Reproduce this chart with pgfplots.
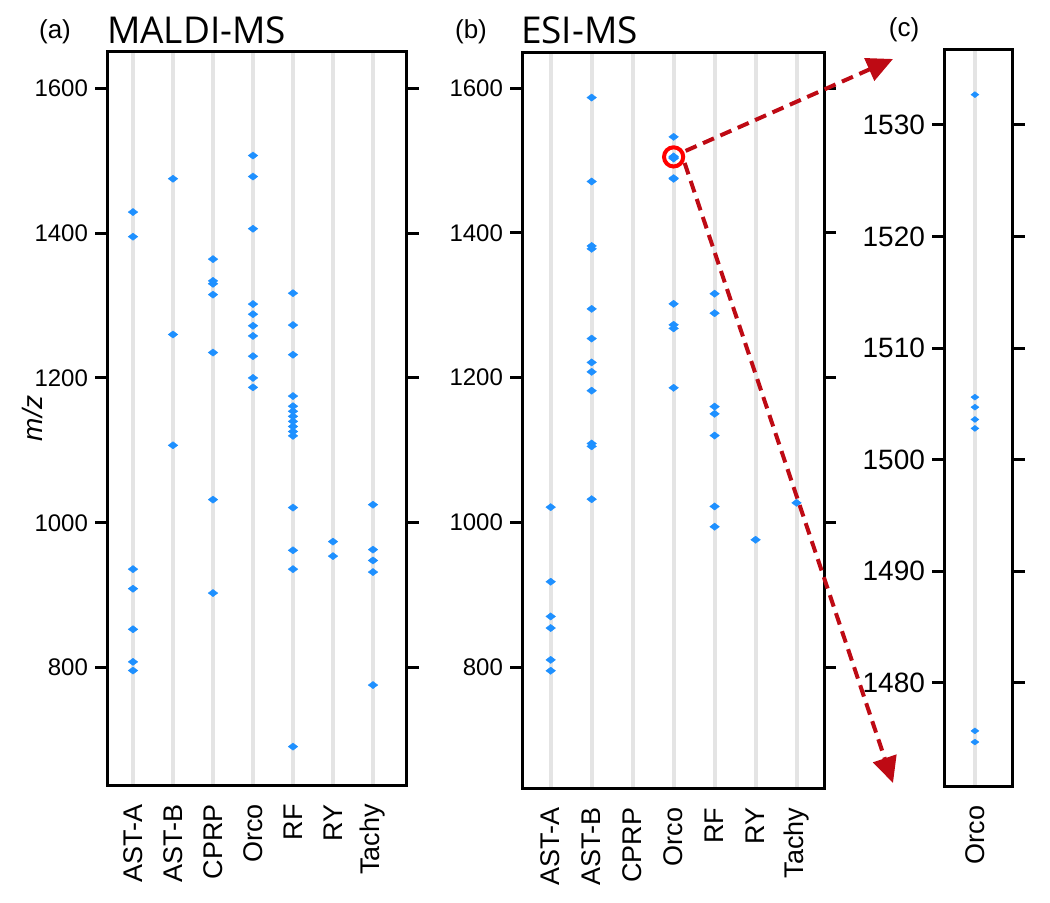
\documentclass[border=0pt]{standalone}
\usepackage{pgfplots}
\pgfplotsset{compat=1.18}
\usepackage{fontspec}
\setmainfont{Liberation Sans}
\newfontfamily\titlefont{Open Sans}
\usetikzlibrary{arrows.meta,calc}
\definecolor{ptblue}{RGB}{30,144,255}
\definecolor{gridgray}{RGB}{228,228,228}
\definecolor{arrowred}{RGB}{190,10,20}

\pgfplotsset{
  panel/.style={
    scale only axis, anchor=north west,
    axis line style={line width=1.5pt},
    xtick={0,...,6}, xmajorgrids,
    major x grid style={gridgray, line width=2pt},
    x tick style={draw=none},
    y tick style={line width=1.5pt, black},
    major tick length=6pt,
    tick align=outside,
    ytick pos=both, yticklabel pos=left,
    xticklabel style={rotate=90, anchor=east, font=\fontsize{13.5}{13.5}\selectfont},
    yticklabel style={font=\fontsize{12}{12}\selectfont},
    /pgf/number format/assume math mode=true,
    /pgf/number format/set thousands separator={},
    clip=false,
  },
  pts/.style={only marks, mark=diamond*, mark size=2.4pt,
    mark options={rotate=90, fill=ptblue, draw=ptblue, line width=0.2pt}},
}

\begin{document}
\begin{tikzpicture}
\path[use as bounding box] (0,0) rectangle (525pt,-451.5pt);

% ---------- (a) MALDI-MS ----------
\begin{axis}[panel, at={(53.5pt,-26pt)}, width=150pt, height=366.5pt,
  xmin=-0.65, xmax=6.85, ymin=638, ymax=1650,
  ytick={800,1000,1200,1400,1600},
  xticklabels={AST-A,AST-B,CPRP,Orco,RF,RY,Tachy},
  ylabel={\textit{m/z}}, ylabel style={font=\fontsize{14}{14}\selectfont, at={(axis description cs:-0.19,0.5)}}]
\addplot[pts] coordinates {
(0,1429) (0,1395) (0,936) (0,909) (0,853) (0,808) (0,796)
(1,1475) (1,1260) (1,1107)
(2,1364) (2,1334) (2,1330) (2,1315) (2,1235) (2,1032) (2,903)
(3,1507) (3,1478) (3,1406) (3,1302) (3,1288) (3,1272) (3,1258) (3,1230) (3,1200) (3,1187)
(4,1317) (4,1273) (4,1232) (4,1175) (4,1161) (4,1154) (4,1147) (4,1140) (4,1133) (4,1126) (4,1120) (4,1021) (4,962) (4,936) (4,691)
(5,974) (5,954)
(6,1025) (6,963) (6,948) (6,932) (6,776)
};
\end{axis}

% ---------- (b) ESI-MS ----------
\begin{axis}[panel, at={(261pt,-26.35pt)}, width=151pt, height=368pt,
  xmin=-0.7, xmax=6.67, ymin=632, ymax=1649,
  ytick={800,1000,1200,1400,1600},
  xticklabels={AST-A,AST-B,CPRP,Orco,RF,RY,Tachy}]
\addplot[pts] coordinates {
(0,1021) (0,918) (0,870) (0,854) (0,810) (0,795)
(1,1587) (1,1471) (1,1382) (1,1378) (1,1295) (1,1254) (1,1221) (1,1208) (1,1182) (1,1109) (1,1105) (1,1032)
(3,1532.7) (3,1505.6) (3,1504.7) (3,1503.6) (3,1502.8) (3,1475.7) (3,1474.7) (3,1302) (3,1273) (3,1268) (3,1186)
(4,1316) (4,1289) (4,1160) (4,1150) (4,1120) (4,1022) (4,994)
(5,976)
(6,1027)
};
\draw[red, line width=2pt] (axis cs:3,1505) circle[radius=4.8pt];
\coordinate (circ) at (axis cs:3,1505);
\end{axis}

% ---------- (c) Orco zoom ----------
\begin{axis}[panel, at={(472pt,-25pt)}, width=34.35pt, height=368.35pt,
  xmin=-0.45, xmax=0.55, ymin=1470.7, ymax=1536.7,
  xtick={0}, xticklabels={Orco},
  yticklabel style={font=\fontsize{14}{14}\selectfont},
  ytick={1480,1490,1500,1510,1520,1530}]
\addplot[pts, mark size=2pt] coordinates {
(0,1532.7) (0,1505.6) (0,1504.7) (0,1503.6) (0,1502.8) (0,1475.7) (0,1474.7)
};
\end{axis}

% annotations
\draw[arrowred, line width=2pt, dash pattern=on 6pt off 3.5pt, -{Triangle[length=13pt,width=12pt]}]
  ($(circ)+(6pt,3pt)$) -- (446.5pt,-29.5pt);
\draw[arrowred, line width=2pt, dash pattern=on 6pt off 3.5pt, -{Triangle[length=13pt,width=12pt]}]
  ($(circ)+(5.5pt,-3pt)$) -- (446.5pt,-391.5pt);

% titles
\node[font=\fontsize{13}{13}\selectfont] at (27.5pt,-16pt) {(a)};
\node[font=\titlefont\fontsize{18.5}{18.5}\selectfont, anchor=west] at (50pt,-15pt) {MALDI-MS};
\node[font=\fontsize{13}{13}\selectfont] at (235.5pt,-16pt) {(b)};
\node[font=\titlefont\fontsize{18.5}{18.5}\selectfont, anchor=west] at (257pt,-15pt) {ESI-MS};
\node[font=\fontsize{13}{13}\selectfont] at (452pt,-15pt) {(c)};
\end{tikzpicture}
\end{document}
